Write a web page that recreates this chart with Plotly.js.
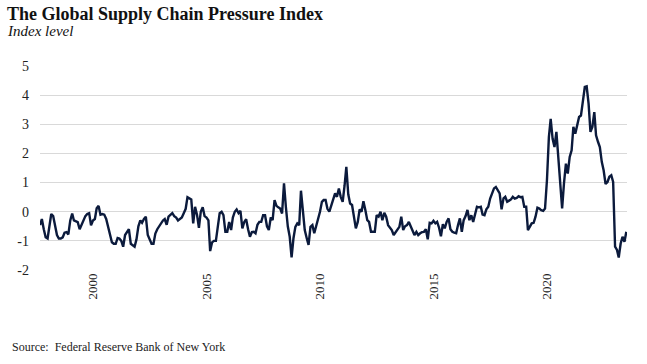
<!DOCTYPE html>
<html>
<head>
<meta charset="utf-8">
<script src="https://cdn.plot.ly/plotly-3.0.1.min.js"></script>
<style>html,body{margin:0;padding:0;background:#fff;}#chart{width:647px;height:364px;}</style>
</head>
<body>
<div id="chart"></div>
<script>
// Monthly GSCPI readings, starting September 1997
const startYear = 1997;
const startMonth = 9;
const gscpi = [
  -0.46,-0.25,-0.6,-0.88,-0.92,-0.5,-0.08,-0.15,-0.5,-0.8,-0.92,-0.92,-0.88,-0.72,-0.7,-0.78,
  -0.3,-0.06,-0.3,-0.32,-0.36,-0.6,-0.45,-0.3,-0.15,-0.08,-0.05,-0.47,
  -0.3,-0.25,0.12,0.2,-0.1,-0.08,-0.1,-0.25,-0.55,-0.75,-1.05,-1.1,
  -1.1,-0.9,-0.92,-1.0,-1.2,-0.8,-0.7,-0.6,-1.1,-1.15,-1.2,-0.95,
  -0.5,-0.3,-0.38,-0.25,-0.17,-0.8,-0.95,-1.1,-1.1,-0.75,-0.6,-0.5,
  -0.4,-0.3,-0.25,-0.45,-0.17,-0.1,-0.05,-0.15,-0.2,-0.3,-0.25,-0.2,
  -0.05,0.1,0.5,0.47,0.42,-0.4,0.17,-0.1,-0.55,0.0,0.15,-0.15,
  -0.2,-0.3,-1.35,-1.05,-1.0,-1.0,-0.5,-0.05,0.0,-0.12,-0.69,-0.69,
  -0.35,-0.63,-0.2,0.0,0.08,-0.05,0.03,-0.57,-0.35,-0.26,-0.6,-0.86,
  -0.7,-0.69,-0.74,-0.45,-0.35,-0.35,-0.12,-0.12,-0.5,-0.63,-0.2,-0.29,
  0.4,0.2,0.15,0.11,-0.06,0.97,0.17,-0.5,-0.86,-1.57,-0.9,-0.52,
  -0.4,-0.46,0.72,0.1,-0.63,-0.9,-1.14,-0.52,-0.46,-0.74,-0.5,-0.29,
  0.0,0.34,0.4,0.4,0.1,0.0,0.2,0.34,0.63,0.51,0.8,0.51,
  0.34,0.9,1.54,0.6,0.28,0.23,-0.12,-0.57,-0.35,0.08,0.0,0.36,
  0.06,-0.29,-0.35,-0.69,-0.69,-0.69,-0.12,-0.17,0.0,-0.29,-0.04,-0.17,
  -0.46,-0.55,-0.63,-0.8,-0.7,-0.63,-0.52,-0.17,-0.63,-0.5,-0.46,-0.35,
  -0.5,-0.69,-0.8,-0.69,-0.8,-0.74,-0.7,-0.69,-0.6,-0.95,-0.38,-0.4,
  -0.31,-0.4,-0.35,-0.55,-0.84,-0.43,-0.57,-0.35,-0.23,-0.6,-0.69,-0.72,
  -0.74,-0.45,-0.23,-0.69,-0.29,-0.15,0.06,-0.29,-0.12,-0.35,-0.1,0.17,
  0.15,0.17,-0.1,-0.12,0.08,0.17,0.45,0.6,0.8,0.85,0.72,0.63,
  0.08,0.46,0.51,0.34,0.38,0.42,0.51,0.45,0.47,0.53,0.5,0.51,
  0.17,0.17,-0.63,-0.49,-0.4,-0.38,-0.17,0.14,0.11,0.05,0.03,0.11,
  1.08,2.56,3.19,2.5,2.22,2.74,1.77,0.74,0.11,0.97,1.65,1.31,
  1.88,2.11,2.91,2.68,3.02,3.25,3.3,3.82,4.28,4.3,3.71,2.74,
  2.91,3.42,2.62,2.4,2.22,1.71,1.42,0.95,1.02,1.2,1.25,1.02,
  -1.2,-1.31,-1.57,-1.09,-0.86,-1.03,-0.69
];
const tickYears = ['2000','2005','2010','2015','2020'];
const yTicks = [-2,-1,0,1,2,3,4,5];

function monthDate(i){
  const total = (startYear*12 + (startMonth-1)) + i;
  const y = Math.floor(total/12), m = total%12 + 1;
  return y + '-' + String(m).padStart(2,'0') + '-01';
}
const dates = gscpi.map((v,i)=>monthDate(i));

const serif = 'Liberation Serif, serif';
const trace = {
  x: dates, y: gscpi, type: 'scatter', mode: 'lines',
  line: {color: '#0b1a3c', width: 2.4},
  hoverinfo: 'skip'
};
const layout = {
  width: 647, height: 364,
  margin: {l: 40, r: 20, t: 66, b: 94},
  paper_bgcolor: '#ffffff', plot_bgcolor: '#ffffff',
  showlegend: false,
  title: {
    text: '<b>The Global Supply Chain Pressure Index</b>',
    font: {family: serif, size: 18, color: '#111111'},
    x: 7/647, xanchor: 'left', xref: 'container',
    y: 1 - 14/364, yanchor: 'middle', yref: 'container'
  },
  xaxis: {
    type: 'date',
    range: ['1997-09-01', '2023-07-12'],
    tickvals: tickYears.map(y => y + '-01-01'),
    ticktext: tickYears,
    tickangle: -90,
    showgrid: false, zeroline: false, showline: false,
    ticks: '',
    tickfont: {family: serif, size: 13, color: '#222222'}
  },
  yaxis: {
    range: [-2, 5],
    tickvals: yTicks,
    ticktext: yTicks.map(String),
    showgrid: true, gridcolor: '#d9d9d9', gridwidth: 1,
    zeroline: false, showline: false, ticks: '',
    ticklabelstandoff: 10,
    tickfont: {family: serif, size: 14, color: '#222222'}
  },
  annotations: [
    {text: '<i>Index level</i>', xref: 'paper', yref: 'paper',
     x: -35/587, y: 1 + (65.7-31)/204.3, xanchor: 'left', yanchor: 'middle',
     showarrow: false, font: {family: serif, size: 15, color: '#111111'}},
    {text: 'Source:  Federal Reserve Bank of New York', xref: 'paper', yref: 'paper',
     x: -30/587, y: -(347-270)/204.3, xanchor: 'left', yanchor: 'middle',
     showarrow: false, font: {family: serif, size: 12, color: '#222222'}}
  ]
};
Plotly.newPlot('chart', [trace], layout, {displayModeBar: false, staticPlot: true});
</script>
</body>
</html>
